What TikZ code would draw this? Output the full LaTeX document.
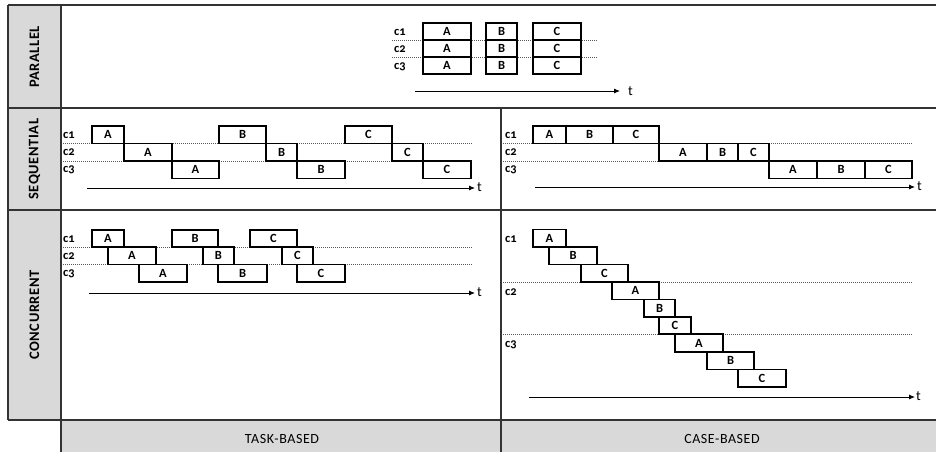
\documentclass[tikz,border=0pt]{standalone}
\usepackage{fontspec}
\setmainfont{Carlito}
\newfontfamily\lblfont[Numbers=OldStyle]{Carlito}
\newfontfamily\capfont[LetterSpace=4]{Carlito}
\usetikzlibrary{arrows.meta}
\definecolor{bandgray}{HTML}{D9D9D9}
\definecolor{framegray}{HTML}{333333}
\tikzset{
  frameline/.style={draw=framegray, line width=1.6pt},
  band/.style={fill=bandgray},
  tbox/.style={draw=black, line width=1.1pt, inner sep=0pt, font=\bfseries\fontsize{12.5}{12.5}\selectfont},
  rowlbl/.style={font=\lblfont\bfseries\fontsize{12.5}{12.5}\selectfont, anchor=west, inner sep=0pt},
  dotline/.style={draw=black!65, line width=0.8pt, dash pattern=on 1pt off 1pt},
  timearrow/.style={draw=black, line width=0.9pt, -{Latex[length=6pt,width=5pt]}},
  tlbl/.style={font=\fontsize{14}{14}\selectfont, anchor=west, inner sep=0pt},
  catlbl/.style={font=\capfont\bfseries\fontsize{14.5}{14.5}\selectfont, rotate=90},
  collbl/.style={font=\capfont\fontsize{14}{14}\selectfont},
}
\newcommand{\tb}[6]{\node[tbox, minimum width={(#4)-(#2)}, minimum height={(#5)-(#3)}] (#1) at ({((#2)+(#4))/2},{((#3)+(#5))/2}) {#6};}
\begin{document}
\begin{tikzpicture}[x=1pt,y=-1pt]
\useasboundingbox (0,0) rectangle (936,452);
% gray bands
\fill[band] (8,5) rectangle (61,420);
\fill[band] (61,420) rectangle (936,452);
% frame lines
\draw[frameline] (8,5) -- (936,5);
\draw[frameline] (8,108) -- (936,108);
\draw[frameline] (8,210) -- (936,210);
\draw[frameline] (8,420) -- (936,420);
\draw[frameline] (8,5) -- (8,420);
\draw[frameline] (61,5) -- (61,452);
\draw[frameline] (501,108) -- (501,452);
% category labels
\node[catlbl] (lpar) at (34.5,57) {PARALLEL};
\node[catlbl] (lseq) at (34.5,159) {SEQUENTIAL};
\node[catlbl] (lcon) at (34.5,315) {CONCURRENT};
\node[collbl] (ltask) at (282,439) {TASK-BASED};
\node[collbl] (lcase) at (722,439) {CASE-BASED};

% ===== PARALLEL =====
\draw[dotline] (392,40) -- (597,40);
\draw[dotline] (392,57) -- (597,57);
\node[rowlbl] (pc1) at (394,32) {c1};
\node[rowlbl] (pc2) at (394,49) {c2};
\node[rowlbl] (pc3) at (394,66.5) {c3};
\tb{pA1}{423}{23}{471}{40}{A}
\tb{pA2}{423}{40}{471}{57}{A}
\tb{pA3}{423}{57}{471}{74}{A}
\tb{pB1}{486}{23}{517}{40}{B}
\tb{pB2}{486}{40}{517}{57}{B}
\tb{pB3}{486}{57}{517}{74}{B}
\tb{pC1}{533}{23}{581}{40}{C}
\tb{pC2}{533}{40}{581}{57}{C}
\tb{pC3}{533}{57}{581}{74}{C}
\coordinate (pS) at (415,91);
\coordinate (pE) at (620,91);
\node[tlbl] (pt) at (628,91) {t};
\draw[timearrow] (pS) -- (pE);

% ===== SEQUENTIAL TASK =====
\draw[dotline] (63,143.5) -- (473,143.5);
\draw[dotline] (63,161) -- (473,161);
\node[rowlbl] (stc1) at (63,135.5) {c1};
\node[rowlbl] (stc2) at (63,152.5) {c2};
\node[rowlbl] (stc3) at (63,170) {c3};
\tb{stA1}{92}{126}{124}{143.5}{A}
\tb{stB1}{219}{126}{266}{143.5}{B}
\tb{stC1}{345}{126}{392}{143.5}{C}
\tb{stA2}{124}{143.5}{172}{161}{A}
\tb{stB2}{266}{143.5}{297}{161}{B}
\tb{stC2}{392}{143.5}{423}{161}{C}
\tb{stA3}{172}{161}{219}{178.5}{A}
\tb{stB3}{297}{161}{345}{178.5}{B}
\tb{stC3}{423}{161}{471}{178.5}{C}
\coordinate (stS) at (87,188);
\coordinate (stE) at (475,188);
\node[tlbl] (stt) at (477,187.5) {t};
\draw[timearrow] (stS) -- (stE);

% ===== SEQUENTIAL CASE =====
\draw[dotline] (503,143.5) -- (913,143.5);
\draw[dotline] (503,161) -- (913,161);
\node[rowlbl] (scc1) at (505,135.5) {c1};
\node[rowlbl] (scc2) at (505,152.5) {c2};
\node[rowlbl] (scc3) at (505,170) {c3};
\tb{scA1}{533}{126}{566}{143.5}{A}
\tb{scB1}{566}{126}{613}{143.5}{B}
\tb{scC1}{613}{126}{659}{143.5}{C}
\tb{scA2}{659}{143.5}{707}{161}{A}
\tb{scB2}{707}{143.5}{738}{161}{B}
\tb{scC2}{738}{143.5}{769}{161}{C}
\tb{scA3}{769}{161}{817}{178.5}{A}
\tb{scB3}{817}{161}{865}{178.5}{B}
\tb{scC3}{865}{161}{912}{178.5}{C}
\coordinate (scS) at (535,187);
\coordinate (scE) at (915,187);
\node[tlbl] (sct) at (917,186.5) {t};
\draw[timearrow] (scS) -- (scE);

% ===== CONCURRENT TASK =====
\draw[dotline] (63,247) -- (473,247);
\draw[dotline] (63,264.5) -- (473,264.5);
\node[rowlbl] (ctc1) at (63,239) {c1};
\node[rowlbl] (ctc2) at (63,256) {c2};
\node[rowlbl] (ctc3) at (63,273.5) {c3};
\tb{ctA1}{92}{230}{124}{247}{A}
\tb{ctB1}{172}{230}{218}{247}{B}
\tb{ctC1}{250}{230}{297}{247}{C}
\tb{ctA2}{108}{247}{156}{264.5}{A}
\tb{ctB2}{203}{247}{234}{264.5}{B}
\tb{ctC2}{282}{247}{313}{264.5}{C}
\tb{ctA3}{139}{264.5}{187}{282}{A}
\tb{ctB3}{218}{264.5}{267}{282}{B}
\tb{ctC3}{297}{264.5}{345}{282}{C}
\coordinate (ctS) at (89,293);
\coordinate (ctE) at (475,293);
\node[tlbl] (ctt) at (477,292.5) {t};
\draw[timearrow] (ctS) -- (ctE);

% ===== CONCURRENT CASE =====
\draw[dotline] (503,282) -- (913,282);
\draw[dotline] (503,334) -- (913,334);
\node[rowlbl] (ccc1) at (505,239) {c1};
\node[rowlbl] (ccc2) at (505,292.5) {c2};
\node[rowlbl] (ccc3) at (505,344.5) {c3};
\tb{ccA1}{533}{229.5}{566}{247}{A}
\tb{ccB1}{549}{247}{597}{264.5}{B}
\tb{ccC1}{581}{264.5}{628}{282}{C}
\tb{ccA2}{612}{282}{659}{299.5}{A}
\tb{ccB2}{644}{299.5}{675}{317}{B}
\tb{ccC2}{659}{317}{691}{334}{C}
\tb{ccA3}{675}{334}{723}{352}{A}
\tb{ccB3}{707}{352}{754}{369.5}{B}
\tb{ccC3}{738}{369.5}{786}{387}{C}
\coordinate (ccS) at (529,397);
\coordinate (ccE) at (915,397);
\node[tlbl] (cct) at (916,396.5) {t};
\draw[timearrow] (ccS) -- (ccE);
\end{tikzpicture}
\end{document}
